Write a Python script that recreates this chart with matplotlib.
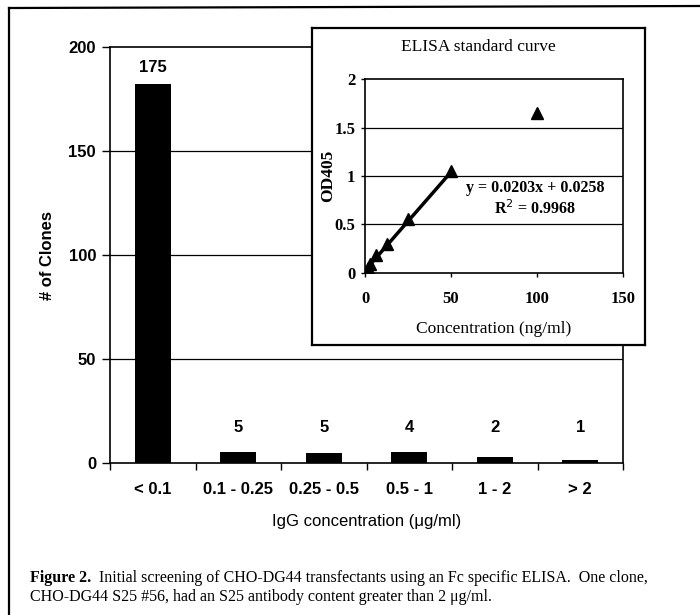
import matplotlib
matplotlib.use('Agg')
import matplotlib.pyplot as plt
from matplotlib.lines import Line2D

# Bar chart data: clones per IgG concentration bin
categories = ['< 0.1', '0.1 - 0.25', '0.25 - 0.5', '0.5 - 1', '1 - 2', '> 2']
bar_heights = [182, 5.5, 5, 5.5, 3, 1.5]
count_labels = ['175', '5', '5', '4', '2', '1']
y_ticks = [0, 50, 100, 150, 200]

# Inset ELISA standard curve data
conc = [0, 1.5625, 3.125, 6.25, 12.5, 25, 50, 100]
od405 = [0.01, 0.05, 0.09, 0.19, 0.30, 0.56, 1.05, 1.65]
fit_range = [0, 50]
slope = 0.0203
intercept = 0.0258

W, H = 700, 615
sans = 'Liberation Sans'
serif = 'Liberation Serif'


def fx(px):
    return px / W


def fy(py):
    return 1 - py / H


fig = plt.figure(figsize=(W / 100, H / 100), dpi=100)

# outer frame (runs off the right and bottom of the scan)
fig.add_artist(Line2D([fx(9), fx(9)], [0, fy(8)], color='black', lw=1.6, transform=fig.transFigure))
fig.add_artist(Line2D([fx(9), 1], [fy(8), fy(6)], color='black', lw=1.6, transform=fig.transFigure))

# ---- main bar chart ----
ax = fig.add_axes([fx(110), fy(463), fx(623) - fx(110), fy(47) - fy(463)])
x = list(range(len(categories)))
ax.bar(x, bar_heights, width=0.42, color='black', zorder=3)
for xi, h, lab in zip(x, bar_heights, count_labels):
    ax.text(xi, max(h + 8, 17), lab, ha='center', va='center',
            fontsize=12, fontweight='bold', family=sans)

ax.set_xlim(-0.5, len(categories) - 0.5)
ax.set_ylim(0, 200)
ax.set_yticks(y_ticks)
ax.set_yticklabels([str(t) for t in y_ticks], fontsize=12, fontweight='bold', family=sans)
ax.set_xticks(x)
ax.set_xticklabels(categories, fontsize=12, fontweight='bold', family=sans)
ax.set_xticks([i - 0.5 for i in range(len(categories) + 1)], minor=True)
ax.tick_params(axis='x', which='major', length=0, pad=14)
ax.tick_params(axis='x', which='minor', length=5, width=1, direction='out')
ax.tick_params(axis='y', length=6, width=1, pad=4)
for t in y_ticks[1:-1]:
    ax.axhline(t, color='black', lw=0.9, zorder=1)
for s in ax.spines.values():
    s.set_linewidth(1.2)

ax.set_ylabel('# of Clones', fontsize=12, fontweight='bold', family=sans)
ax.yaxis.set_label_coords(-0.107, 0.5)
ax.set_xlabel('IgG concentration (μg/ml)', fontsize=12, family=sans)
ax.xaxis.set_label_coords(0.5, -0.122)

# ---- inset box ----
box = fig.add_axes([fx(312), fy(345), fx(645) - fx(312), fy(28) - fy(345)], zorder=2)
box.set_xticks([])
box.set_yticks([])
box.set_facecolor('white')
for s in box.spines.values():
    s.set_linewidth(1.6)
box.text(0.5, 1 - (47 - 28) / 317, 'ELISA standard curve', transform=box.transAxes,
         ha='center', va='center', fontsize=12.5, family=serif)

ins = fig.add_axes([fx(365), fy(273), fx(623) - fx(365), fy(79) - fy(273)], zorder=3)
ins.set_facecolor('white')
ins.plot(fit_range, [slope * v + intercept for v in fit_range], color='black', lw=2.5, zorder=3)
ins.plot(conc, od405, linestyle='none', marker='^', markersize=9, color='black', zorder=4)
ins.set_xlim(0, 150)
ins.set_ylim(0, 2)
ins.set_xticks([0, 50, 100, 150])
ins.set_yticks([0, 0.5, 1, 1.5, 2])
ins.set_xticklabels(['0', '50', '100', '150'], fontsize=12, fontweight='bold', family=serif)
ins.set_yticklabels(['0', '0.5', '1', '1.5', '2'], fontsize=12, fontweight='bold', family=serif)
ins.tick_params(length=3, width=1, pad=4)
ins.tick_params(axis='x', pad=10)
for t in [0.5, 1, 1.5]:
    ins.axhline(t, color='black', lw=0.9, zorder=1)
for s in ins.spines.values():
    s.set_linewidth(1.2)
ins.set_xlabel('Concentration (ng/ml)', fontsize=12.5, family=serif)
ins.xaxis.set_label_coords(0.5, -(321 - 273) / 194)
ins.set_ylabel('OD405', fontsize=12.5, fontweight='bold', family=serif)
ins.yaxis.set_label_coords(-(365 - 336) / 258, 0.5)
ins.text(0.66, (273 - 188) / 194, 'y = 0.0203x + 0.0258', transform=ins.transAxes,
         ha='center', va='center', fontsize=11.5, fontweight='bold', family=serif)
ins.text(0.66, (273 - 209) / 194, 'R$^2$ = 0.9968', transform=ins.transAxes,
         ha='center', va='center', fontsize=11.5, fontweight='bold', family=serif)

# ---- caption ----
bold = fig.text(fx(30), fy(578), 'Figure 2.', fontsize=11.5, fontweight='bold',
                family=serif, va='center')
ax.annotate('  Initial screening of CHO-DG44 transfectants using an Fc specific ELISA.  One clone,',
            xy=(1, 0.5), xycoords=bold, va='center', ha='left',
            fontsize=11.5, family=serif, annotation_clip=False)
fig.text(fx(30), fy(597), 'CHO-DG44 S25 #56, had an S25 antibody content greater than 2 μg/ml.',
         fontsize=11.5, family=serif, va='center')

fig.savefig('out.png', dpi=100)
